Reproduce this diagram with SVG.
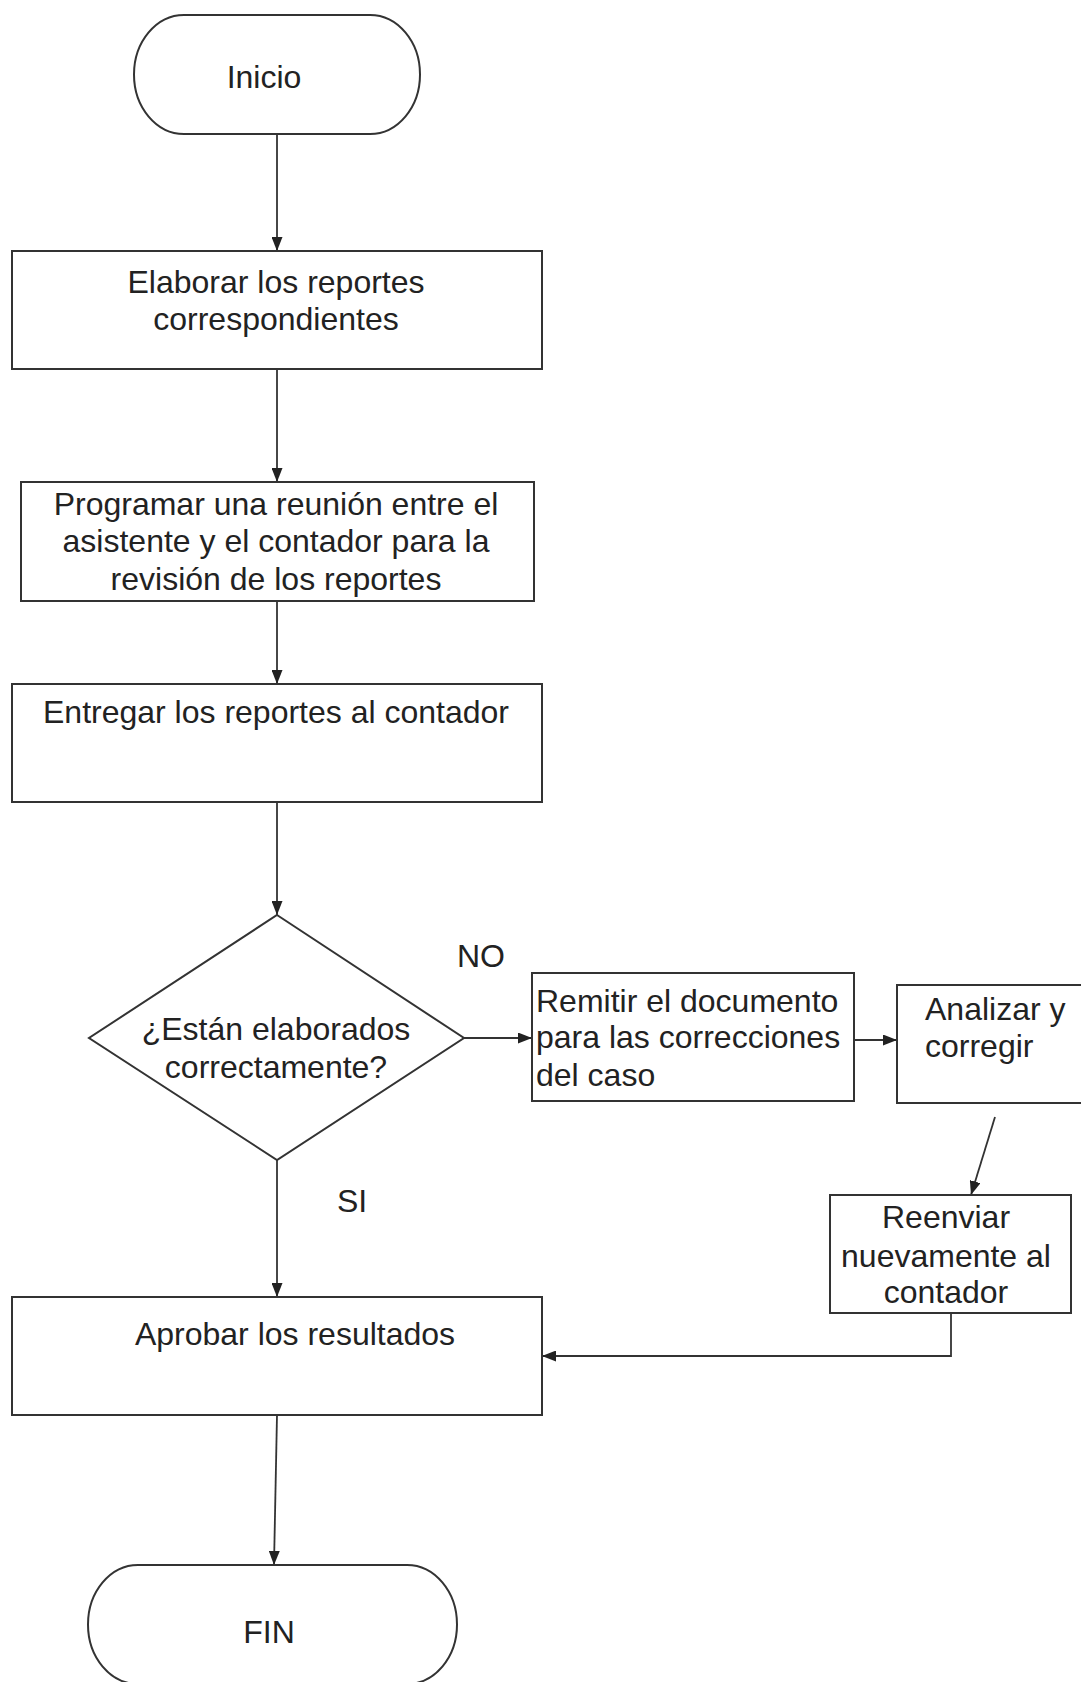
<svg xmlns="http://www.w3.org/2000/svg" width="1081" height="1682" viewBox="0 0 1081 1682">
<style>
.shape{fill:#fff;stroke:#333;stroke-width:2}
.conn{fill:none;stroke:#333;stroke-width:1.8}
text{font-family:"Liberation Sans",Arial,sans-serif;font-size:32px;fill:#222}
.c{text-anchor:middle}
</style>
<defs>
<marker id="arr" markerUnits="userSpaceOnUse" markerWidth="14" markerHeight="11" refX="14" refY="5.5" orient="auto">
<path d="M0,0 L14,5.5 L0,11 z" fill="#222"/>
</marker>
</defs>
<rect width="1081" height="1682" fill="#fff"/>
<g id="connectors">
<path class="conn" d="M277,134 L277,251" marker-end="url(#arr)"/>
<path class="conn" d="M277,369 L277,482" marker-end="url(#arr)"/>
<path class="conn" d="M277,601 L277,684" marker-end="url(#arr)"/>
<path class="conn" d="M277,802 L277,915" marker-end="url(#arr)"/>
<path class="conn" d="M464,1038 L532,1038" marker-end="url(#arr)"/>
<path class="conn" d="M854,1040 L897,1040" marker-end="url(#arr)"/>
<path class="conn" d="M995,1117 L971,1195" marker-end="url(#arr)"/>
<path class="conn" d="M951,1313 L951,1356 L542,1356" marker-end="url(#arr)"/>
<path class="conn" d="M277,1160 L277,1297" marker-end="url(#arr)"/>
<path class="conn" d="M277,1415 L274,1565" marker-end="url(#arr)"/>
</g>
<g id="inicio">
<rect class="shape" x="134" y="15" width="286" height="119" rx="50" ry="59.5"/>
<text class="c" x="264" y="88">Inicio</text>
</g>
<g id="elaborar">
<rect class="shape" x="12" y="251" width="530" height="118"/>
<text class="c" x="276" y="293">Elaborar los reportes</text>
<text class="c" x="276" y="330">correspondientes</text>
</g>
<g id="programar">
<rect class="shape" x="21" y="482" width="513" height="119"/>
<text class="c" x="276" y="515">Programar una reunión entre el</text>
<text class="c" x="276" y="552">asistente y el contador para la</text>
<text class="c" x="276" y="590">revisión de los reportes</text>
</g>
<g id="entregar">
<rect class="shape" x="12" y="684" width="530" height="118"/>
<text class="c" x="276" y="723">Entregar los reportes al contador</text>
</g>
<g id="decision">
<path class="shape" d="M277,915 L464,1038 L277,1160 L89,1038 Z"/>
<text class="c" x="276" y="1040">¿Están elaborados</text>
<text class="c" x="276" y="1078">correctamente?</text>
</g>
<g id="label-no"><text x="457" y="967">NO</text></g>
<g id="label-si"><text x="337" y="1212">SI</text></g>
<g id="remitir">
<rect class="shape" x="532" y="973" width="322" height="128"/>
<text x="536" y="1012">Remitir el documento</text>
<text x="536" y="1048">para las correcciones</text>
<text x="536" y="1086">del caso</text>
</g>
<g id="analizar">
<rect class="shape" x="897" y="985" width="200" height="118"/>
<text x="925" y="1020">Analizar y</text>
<text x="925" y="1057">corregir</text>
</g>
<g id="reenviar">
<rect class="shape" x="830" y="1195" width="241" height="118"/>
<text class="c" x="946" y="1228">Reenviar</text>
<text class="c" x="946" y="1267">nuevamente al</text>
<text class="c" x="946" y="1303">contador</text>
</g>
<g id="aprobar">
<rect class="shape" x="12" y="1297" width="530" height="118"/>
<text class="c" x="295" y="1345">Aprobar los resultados</text>
</g>
<g id="fin">
<rect class="shape" x="88" y="1565" width="369" height="119" rx="50" ry="59.5"/>
<text class="c" x="269" y="1643">FIN</text>
</g>
</svg>
